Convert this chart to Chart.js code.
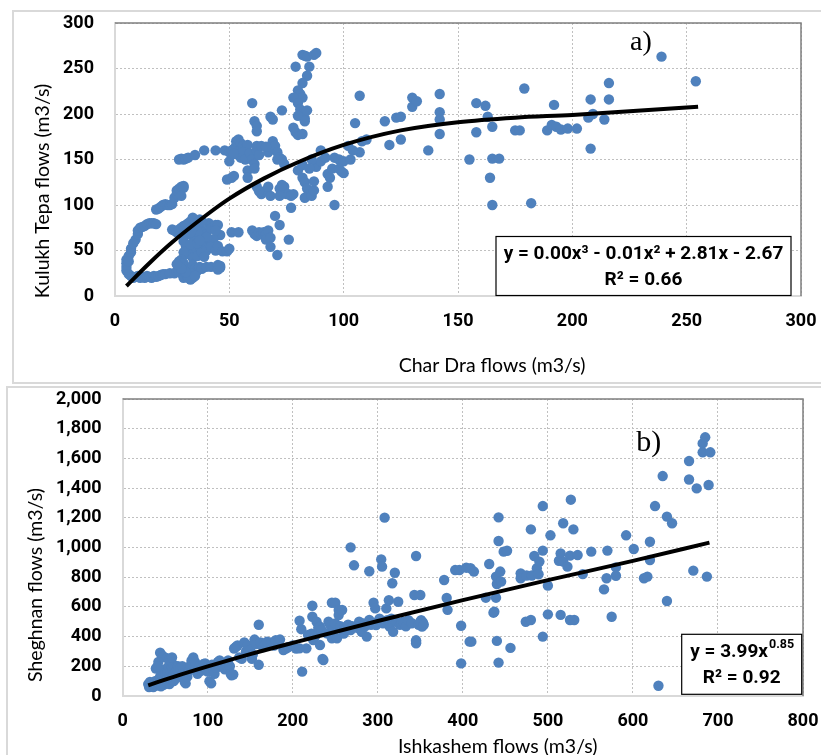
<!DOCTYPE html>
<html>
<head>
<meta charset="utf-8">
<script src="https://cdn.jsdelivr.net/npm/chart.js@4.4.1/dist/chart.umd.min.js"></script>
<style>
  body { margin: 0; background: #fff; overflow: hidden; width: 821px; height: 755px; position: relative; }
  .frame { position: absolute; border: 2px solid #D9D9D9; box-sizing: border-box; }
  canvas { position: absolute; }
</style>
</head>
<body>
<div class="frame" style="left:12px; top:10px; width:830px; height:374px;"></div>
<div class="frame" style="left:6px; top:386px; width:830px; height:400px;"></div>
<canvas id="chartA" width="809" height="373" style="left:12px; top:10px;"></canvas>
<canvas id="chartB" width="815" height="369" style="left:6px; top:386px;"></canvas>
<script>
// a) Char Dra (x) vs Kulukh Tepa (y), m3/s
const pointsA = [
  [5,40],[5,36],[5,32],[5,28],[6,44],[6,24],[7,48],[7,52],[6,38],[7,22],[8,20],[9,21],[10,22],[11,20],
  [12,21],[13,20],[14,22],[15,21],[16,20],[17,22],[18,21],[19,22],[20,23],[21,24],[22,24],[24,25],
  [26,25],[27,27],[28,27],[29,25],[30,22],[30,20],[31,24],[32,21],[33,23],[34,20],
  [8,58],[9,62],[10,68],[10,72],[11,75],[12,76],[13,77],[14,79],[15,80],[16,80],[17,80],[18,79],
  [18,95],[19,96],[20,98],[21,100],[22,101],[23,100],[24,100],[25,101],
  [26,108],[27,112],[27,116],[28,118],[29,120],[30,121],[30,119],[29,110],
  [28,150],[29,151],[30,150],[31,151],[32,152],[35,155],[39,160],[44,160],[48,160],
  [50,158],[51,160],[52,162],[53,165],[53,170],[54,172],[55,168],[55,160],[56,165],[57,162],[58,166],
  [54,155],[55,152],[56,158],[57,150],[50,148],[52,156],[51,130],[49,128],[52,132],[58,138],[58,130],
  [25,73],[26,72],[27,70],[28,73],[29,75],[30,77],[31,78],[32,80],[33,82],[34,86],[35,80],[36,78],
  [37,76],[38,72],[39,70],[40,68],[41,80],[42,74],[44,78],[45,78],[46,67],[43,62],[41,60],[39,64],
  [36,66],[34,66],[32,68],[30,66],[38,55],[35,52],[33,50],[32,46],[34,42],[36,44],[38,48],[40,50],
  [42,54],[44,50],[45,55],[47,49],[31,55],[30,48],[29,40],[28,38],[30,36],[31,32],[32,28],[33,30],
  [34,34],[35,30],[36,28],[37,32],[38,30],[40,32],[42,32],[45,34],[46,31],[45,29],[33,25],[32,20],
  [33,18],[31,26],[35,22],[29,30],[27,35],[30,60],[33,57],[36,58],[38,62],[40,65],[36,70],[34,75],
  [33,70],[37,84],[38,82],[44,72],[49,49],[46,33],[39,43],[37,61],
  [50,52],[51,70],[54,70],[60,72],[61,68],[62,66],[63,70],[64,68],[65,70],[66,68],[67,72],[66,62],
  [68,64],[70,88],[72,78],[76,62],[68,54],[71,45],[64,112],[65,115],[63,115],
  [60,212],[61,192],[62,187],[62,181],[68,197],[69,194],[73,204],
  [59,157],[60,150],[61,145],[62,160],[63,155],[62,165],[64,165],[67,158],[61,140],[69,170],[70,165],
  [71,158],[72,152],[73,150],[71,150],[66,164],[74,145],[75,112],[74,120],[72,118],[73,122],[76,112],
  [77,110],[78,112],[77,97],[72,110],[68,110],[67,120],[62,120],
  [79,252],[82,265],[83,264],[84,263],[87,265],[88,267],[85,252],[84,242],[82,234],[80,226],[81,222],
  [82,218],[78,218],[80,212],[81,205],[82,200],[83,195],[80,198],[84,204],[83,192],[79,180],[80,177],
  [82,178],[78,185],
  [82,144],[80,138],[82,130],[83,125],[84,118],[85,112],[83,108],[86,110],[87,116],[87,126],[88,142],
  [90,148],[90,160],[92,152],[93,134],[94,130],[95,140],[93,120],[96,152],[98,150],[100,148],[99,137],
  [100,135],[98,140],[96,100],[86,150],[85,140],
  [102,165],[103,150],[105,190],[107,220],[108,170],[107,158],[110,172],[104,160],
  [118,192],[120,166],[123,196],[125,172],[125,197],[130,218],[130,208],[132,214],[137,160],[142,222],
  [142,202],[142,194],[142,178],[155,150],[158,212],[158,180],[162,209],[163,197],[165,186],[164,130],
  [165,100],[165,151],[168,151],[175,182],[177,182],[179,228],[182,102],[189,182],[191,188],[193,186],
  [192,210],[195,183],[198,184],[202,184],[208,216],[207,196],[209,200],[208,162],[214,194],[216,234],
  [216,216],[239,263],[254,236]
];
// trend line
const trendAx = [5, 15, 25, 40, 50, 65, 80, 100, 125, 150, 175, 200, 225, 255];
const trendAy = [11, 36, 59, 89, 107, 129, 147, 166, 182, 191, 196, 199, 203, 208];

// b) Ishkashem (x) vs Sheghnan (y), m3/s
const pointsB = [
  [30,80],[31,60],[32,95],[33,70],[35,85],[36,60],[38,100],[40,90],[40,70],[42,110],[43,80],[44,130],
  [45,95],[45,65],[46,150],[47,120],[48,100],[48,75],[50,180],[50,140],[51,110],[52,90],[53,160],
  [54,200],[55,130],[55,80],[56,170],[57,110],[58,190],[59,140],[60,100],[60,210],[62,160],[63,120],
  [64,180],[65,200],[66,140],[44,292],[46,275],[48,265],[52,255],[55,245],[58,260],[42,230],[39,185],
  [41,200],[68,190],[70,200],[72,150],[73,95],[74,85],[76,130],[78,170],[80,210],[81,240],[83,260],
  [85,230],[86,180],[88,150],[90,200],[92,170],[95,215],[97,220],[98,190],[100,165],[102,100],[104,85],
  [105,210],[107,170],[108,150],[110,190],[112,230],[114,240],[116,200],[118,220],[120,180],[122,210],
  [124,240],[126,200],[127,150],[128,140],[130,145],[131,320],[133,330],[135,340],[137,260],[140,250],
  [143,360],[145,300],[147,340],[150,310],[152,250],[153,280],[155,380],[157,350],[160,480],[160,210],
  [162,360],[165,330],[168,350],[170,365],[175,360],[178,340],[180,375],[183,370],[185,380],[189,310],
  [192,320],[195,330],[200,340],[204,320],[208,321],[208,507],[210,450],[211,164],[216,321],[218,411],
  [222,420],[223,608],[223,534],[224,377],[226,400],[228,500],[230,460],[232,467],[232,343],[234,444],
  [235,249],[236,242],[240,422],[242,500],[244,480],[246,628],[246,389],[248,460],[250,628],[250,489],
  [252,389],[254,579],[254,545],[256,470],[258,579],[260,420],[262,450],[265,480],[268,1001],[268,444],
  [270,470],[272,880],[275,460],[278,500],[281,433],[283,489],[285,470],[287,400],[290,512],[290,840],
  [292,480],[295,628],[297,590],[298,478],[300,500],[302,520],[304,920],[305,871],[306,489],[308,1201],
  [310,590],[311,510],[313,645],[314,467],[316,520],[317,759],[318,433],[320,830],[322,500],[324,635],
  [326,480],[328,489],[330,500],[333,470],[336,510],[340,490],[343,680],[345,943],[345,366],[348,480],
  [350,680],[352,467],[353,495],[351,510],[345,375],[345,355],[350,500],[354,480],
  [378,781],[381,660],[382,580],[391,848],[396,848],[398,473],[398,220],[404,864],[408,366],[410,366],
  [409,860],[413,838],[427,662],[431,889],[436,561],[437,567],[439,662],[439,804],[440,754],[440,371],
  [442,1203],[442,1044],[442,225],[444,838],[445,770],[448,972],[452,978],[456,324],[468,826],[468,793],
  [475,811],[474,500],[480,512],[481,811],[480,1122],[484,943],[487,860],[489,820],[490,905],[494,979],
  [494,1279],[494,400],[500,743],[500,550],[503,1082],[513,911],[515,546],[515,960],[518,905],[518,1163],
  [523,871],[526,945],[526,512],[530,1122],[531,512],[527,1322],[535,949],[541,821],[551,972],[566,718],
  [569,793],[570,979],[575,534],[580,866],[580,810],[592,1082],[601,990],[613,793],[617,804],[620,1039],
  [620,916],[626,1279],[630,69],[635,1481],[640,1208],[640,640],[646,1163],[666,1582],[666,1458],
  [671,844],[675,1398],[682,1701],[682,1641],[685,1742],[687,804],[689,1421],[691,1641]
];
const trendBx = [30, 60, 100, 150, 200, 300, 400, 500, 600, 690];
const trendBy = [72, 129, 199, 282, 358, 505, 646, 780, 910, 1033];

const dotColor = '#4F81BD';
const gridColor = '#C0C0C0';
const boldFamily = 'Roboto, "Liberation Sans", sans-serif';
const axisFont = { family: boldFamily, size: 18, weight: 'bold' };

function toPts(list) { return list.map(p => ({ x: p[0], y: p[1] })); }
function zip(xs, ys) { return xs.map((x, i) => ({ x: x, y: ys[i] })); }

// draws the plot frame, equation box, panel letter and axis titles
function decorPlugin(d) {
  return {
    id: 'decor',
    afterDraw(chart) {
      const ctx = chart.ctx, a = chart.chartArea;
      ctx.save();
      // top / right frame of the plot area
      ctx.strokeStyle = '#7F7F7F';
      ctx.lineWidth = 1.5;
      ctx.beginPath();
      ctx.moveTo(a.left, a.top); ctx.lineTo(a.right, a.top); ctx.lineTo(a.right, a.bottom);
      ctx.stroke();

      // equation box
      const bx = a.right - d.box.r - d.box.w, by = a.bottom - d.box.b - d.box.h;
      ctx.fillStyle = '#fff';
      ctx.fillRect(bx, by, d.box.w, d.box.h);
      ctx.strokeStyle = '#000';
      ctx.lineWidth = 1.2;
      ctx.strokeRect(bx, by, d.box.w, d.box.h);
      ctx.fillStyle = '#000';
      ctx.textBaseline = 'middle';
      const cx = bx + d.box.w / 2;
      const big = 'bold 19px ' + boldFamily, small = 'bold 12.5px ' + boldFamily;
      ctx.font = big;
      if (d.sup) {
        const w1 = ctx.measureText(d.eq).width;
        ctx.font = small;
        const w2 = ctx.measureText(d.sup).width;
        const x0 = cx - (w1 + w2) / 2;
        ctx.textAlign = 'left';
        ctx.font = big;
        ctx.fillText(d.eq, x0, by + 18);
        ctx.font = small;
        ctx.fillText(d.sup, x0 + w1 + 1, by + 11);
      } else {
        ctx.textAlign = 'center';
        ctx.fillText(d.eq, cx, by + 18);
      }
      ctx.font = big;
      ctx.textAlign = 'center';
      ctx.fillText(d.r2, cx, by + 44);

      // panel letter
      ctx.font = d.letterSize + 'px "Liberation Serif"';
      ctx.fillText(d.letter, a.left + d.letterPos[0], a.top + d.letterPos[1]);

      // axis titles
      ctx.font = '19.5px Lato';
      ctx.fillText(d.xTitle, a.left + d.xTitlePos[0], a.bottom + d.xTitlePos[1]);
      ctx.translate(a.left - d.yTitlePos[0], a.top + d.yTitlePos[1]);
      ctx.rotate(-Math.PI / 2);
      ctx.fillText(d.yTitle, 0, 0);
      ctx.restore();
    }
  };
}

function makeChart(id, cfg) {
  const ctx = document.getElementById(id).getContext('2d');
  return new Chart(ctx, {
    type: 'scatter',
    data: {
      datasets: [
        {
          label: 'trend',
          data: cfg.trend,
          showLine: true,
          borderColor: '#000',
          borderWidth: 4,
          pointRadius: 0,
          cubicInterpolationMode: 'monotone'
        },
        {
          label: 'flows',
          data: cfg.points,
          backgroundColor: dotColor,
          borderColor: dotColor,
          borderWidth: 0,
          pointRadius: 5.2
        }
      ]
    },
    options: {
      responsive: false,
      animation: false,
      devicePixelRatio: 1,
      layout: { padding: { top: 13, right: cfg.padRight, left: 0, bottom: 0 } },
      plugins: { legend: { display: false }, tooltip: { enabled: false } },
      scales: {
        x: {
          min: 0, max: cfg.xMax,
          afterFit: s => { s.height = cfg.xAxisH; s.paddingLeft = 0; s.paddingRight = 0; },
          ticks: { stepSize: cfg.xStep, padding: 15, color: '#000', font: axisFont },
          grid: { color: gridColor, drawTicks: false },
          border: { color: '#D9D9D9', width: 2, dash: [2, 2] }
        },
        y: {
          min: 0, max: cfg.yMax,
          afterFit: s => { s.width = cfg.yAxisW; s.paddingTop = 0; s.paddingBottom = 0; },
          ticks: {
            stepSize: cfg.yStep, padding: 21, color: '#000', font: axisFont,
            callback: v => v.toLocaleString('en-US')
          },
          grid: { color: gridColor, drawTicks: false },
          border: { color: '#D9D9D9', width: 2, dash: [2, 2] }
        }
      }
    },
    plugins: [decorPlugin(cfg.decor)]
  });
}

makeChart('chartA', {
  points: toPts(pointsA),
  trend: zip(trendAx, trendAy),
  xMax: 300, xStep: 50, yMax: 300, yStep: 50,
  yAxisW: 103, xAxisH: 87, padRight: 20,
  decor: {
    box: { w: 295, h: 59, r: 10, b: 0.5 },
    eq: 'y = 0.00x\u00B3 - 0.01x\u00B2 + 2.81x - 2.67',
    r2: 'R\u00B2 = 0.66',
    letter: 'a)', letterSize: 28, letterPos: [526, 20],
    xTitle: 'Char Dra flows (m3/s)', xTitlePos: [377, 70],
    yTitle: 'Kulukh Tepa flows (m3/s)', yTitlePos: [72, 168]
  }
});

makeChart('chartB', {
  points: toPts(pointsB),
  trend: zip(trendBx, trendBy),
  xMax: 800, xStep: 100, yMax: 2000, yStep: 200,
  yAxisW: 116.7, xAxisH: 59, padRight: 18,
  decor: {
    box: { w: 120, h: 60, r: 1.3, b: 1.7 },
    eq: 'y = 3.99x', sup: '0.85',
    r2: 'R\u00B2 = 0.92',
    letter: 'b)', letterSize: 30, letterPos: [526, 44],
    xTitle: 'Ishkashem flows (m3/s)', xTitlePos: [375, 51],
    yTitle: 'Sheghnan flows (m3/s)', yTitlePos: [87, 186]
  }
});
</script>
</body>
</html>
